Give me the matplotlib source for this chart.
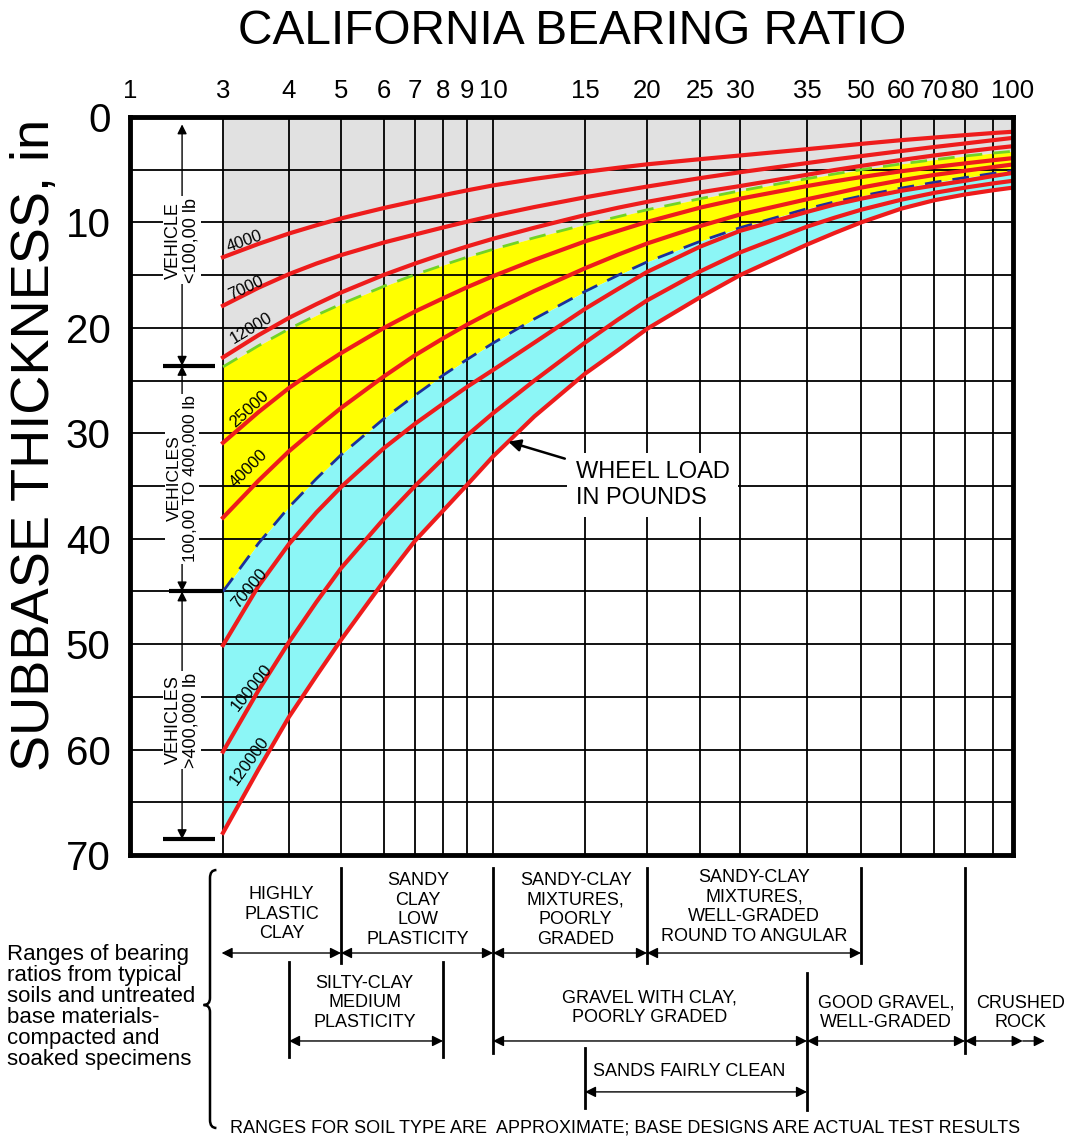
import numpy as np
import matplotlib
matplotlib.use('Agg')
import matplotlib.pyplot as plt
from matplotlib.path import Path
from matplotlib.patches import PathPatch

plt.rcParams['font.family'] = ['Liberation Sans', 'DejaVu Sans']

# CBR values where the curves were read
cbr = [3, 3.5, 4, 4.5, 5, 6, 7, 8, 9, 10, 12, 15, 17.5, 20, 25, 30, 35, 42, 50, 60, 70, 80, 90, 100]

# subbase thickness (in) for each wheel load
load_labels = ['4000', '7000', '12000', '25000', '40000', '70000', '100000', '120000']
t_4000 = [13.3, 12.04, 11.05, 10.27, 9.62, 8.63, 7.98, 7.42, 6.96, 6.49, 5.87, 5.21,
          4.81, 4.49, 4.0, 3.65, 3.05, 2.8, 2.55, 2.2, 1.95, 1.72, 1.52, 1.4]
t_7000 = [17.9, 16.2, 14.9, 13.9, 13.1, 11.9, 11.15, 10.48, 9.93, 9.36, 8.54, 7.62,
          7.06, 6.6, 5.8, 5.24, 4.37, 4.02, 3.71, 3.23, 2.85, 2.51, 2.2, 1.98]
t_12000 = [22.8, 20.7, 19.05, 17.75, 16.65, 14.97, 13.9, 13.0, 12.28, 11.55, 10.5, 9.3,
           8.6, 8.05, 7.15, 6.55, 5.48, 5.03, 4.64, 4.08, 3.65, 3.28, 2.97, 2.77]
t_25000 = [30.9, 28.0, 25.7, 23.9, 22.4, 20.0, 18.45, 17.2, 16.15, 15.1, 13.55, 11.8,
           10.8, 9.95, 8.6, 7.75, 6.55, 6.1, 5.7, 5.15, 4.75, 4.4, 4.1, 3.9]
t_40000 = [38.0, 34.5, 31.7, 29.5, 27.6, 24.6, 22.6, 21.0, 19.7, 18.4, 16.5, 14.35,
           13.05, 12.0, 10.35, 9.25, 7.8, 7.25, 6.7, 6.0, 5.5, 5.1, 4.75, 4.5]
t_70000 = [50.1, 44.5, 40.5, 37.5, 35.1, 31.4, 29.1, 27.2, 25.6, 24.0, 21.4, 18.2,
           16.3, 14.7, 12.3, 10.8, 9.0, 8.3, 7.75, 7.0, 6.5, 6.05, 5.6, 5.3]
t_100000 = [60.2, 54.4, 49.8, 46.0, 42.8, 38.1, 35.0, 32.4, 30.2, 28.1, 25.0, 21.4,
            19.2, 17.4, 14.65, 12.85, 10.4, 9.55, 8.8, 7.85, 7.2, 6.7, 6.3, 6.05]
t_120000 = [67.9, 61.9, 56.9, 53.0, 49.6, 44.0, 40.2, 37.35, 34.9, 32.2, 28.4, 24.35,
            22.1, 20.1, 17.1, 15.0, 12.1, 11.0, 10.0, 8.7, 7.9, 7.35, 6.95, 6.7]
curves = [t_4000, t_7000, t_12000, t_25000, t_40000, t_70000, t_100000, t_120000]

# dashed limits between the vehicle classes
t_green = [23.7, 21.7, 20.1, 18.8, 17.75, 16.05, 14.95, 14.05, 13.3, 12.55, 11.45, 10.2,
           9.45, 8.8, 7.75, 7.0, 5.85, 5.4, 5.0, 4.45, 4.05, 3.7, 3.42, 3.25]
t_blue = [45.0, 40.45, 37.0, 34.3, 32.05, 28.6, 26.4, 24.5, 23.0, 21.45, 19.15, 16.55,
          15.0, 13.75, 11.8, 10.5, 8.7, 8.05, 7.5, 6.75, 6.2, 5.75, 5.35, 5.1]

# label spots along the curves (cbr, thickness, angle)
lab_x = [3.30, 3.31, 3.40, 3.36, 3.35, 3.37, 3.40, 3.36]
lab_y = [11.8, 16.2, 20.0, 27.7, 33.3, 44.7, 54.1, 61.1]
lab_rot = [20, 25, 31, 42, 45, 50, 51, 54]

# top axis
tick_vals = [1, 3, 4, 5, 6, 7, 8, 9, 10, 15, 20, 25, 30, 35, 50, 60, 70, 80, 90, 100]
tick_labels = ['1', '3', '4', '5', '6', '7', '8', '9', '10', '15', '20', '25', '30',
               '35', '50', '60', '70', '80', '', '100']
# the chart's CBR scale is not a plain log scale; spacing
scale_pos = [130, 223, 289, 341, 384, 415, 443, 467, 493, 585, 647, 700, 740,
             807, 861, 901, 934, 965, 993, 1013]
lv = np.log10(tick_vals)


def fwd(x):
    x = np.clip(np.asarray(x, dtype=float), 1e-3, None)
    return np.interp(np.log10(x), lv, scale_pos)


def inv(p):
    return 10 ** np.interp(p, scale_pos, lv)


fig = plt.figure(figsize=(10.71, 11.40), dpi=100)
ax = fig.add_axes([130 / 1071, 1 - 855 / 1140, 883 / 1071, 738 / 1140])
ax.set_xscale('function', functions=(fwd, inv))
ax.set_xlim(1, 100)
ax.set_ylim(70, 0)

# shaded zones
ax.fill_between(cbr, 0, t_green, color='#e1e1e1', lw=0, zorder=0)
ax.fill_between(cbr, t_green, t_blue, color='#ffff00', lw=0, zorder=0)
ax.fill_between(cbr, t_blue, t_120000, color='#8cf6f6', lw=0, zorder=0)

# grid
ax.set_xticks(tick_vals)
ax.set_xticklabels(tick_labels)
ax.set_yticks(range(0, 71, 10))
for v in tick_vals[1:]:
    ax.axvline(v, color='black', lw=1.3, zorder=1)
for v in range(5, 70, 5):
    ax.axhline(v, color='black', lw=1.3, zorder=1)

ax.xaxis.tick_top()
ax.tick_params(axis='x', which='both', length=0, labelsize=18.5, pad=10)
ax.tick_params(axis='y', which='both', length=0, labelsize=29, pad=14)
for s in ax.spines.values():
    s.set_linewidth(3.5)
    s.set_zorder(5)

for t in curves:
    ax.plot(cbr, t, color='#ee1c1c', lw=3, zorder=3)
ax.plot(cbr, t_green, color='#72d424', lw=2, ls=(0, (6, 4)), zorder=2)
ax.plot(cbr, t_blue, color='#1c2f9a', lw=2, ls=(0, (6, 4)), zorder=2)

for lab, x, y, r in zip(load_labels, lab_x, lab_y, lab_rot):
    ax.text(x, y, lab, rotation=r, fontsize=12, ha='center', va='center',
            rotation_mode='anchor', zorder=4)

# vehicle classes on the left
vx = 1.85
for y0, y1 in [(0.7, 23.6), (23.6, 45.0), (45.0, 68.5)]:
    ax.annotate('', xy=(vx, y1), xytext=(vx, y0),
                arrowprops=dict(arrowstyle='<|-|>', color='black', lw=1,
                                mutation_scale=14, shrinkA=0, shrinkB=0), zorder=4)
for y, x0, x1 in [(23.6, 1.48, 2.73), (45.0, 1.58, 3.0), (68.5, 1.48, 2.73)]:
    ax.plot([x0, x1], [y, y], color='black', lw=3, zorder=4, solid_capstyle='butt')
veh = [('VEHICLE\n<100,00 lb', 11.7, 13), ('VEHICLES\n100,00 TO 400,000 lb', 34.3, 12.5),
       ('VEHICLES\n>400,000 lb', 57.2, 13)]
for txt, y, fs in veh:
    ax.text(vx, y, txt, rotation=90, fontsize=fs, ha='center', va='center',
            multialignment='center', linespacing=1.1, zorder=4,
            bbox=dict(facecolor='white', edgecolor='none', pad=1))

ax.annotate('WHEEL LOAD\nIN POUNDS', xy=(10.7, 30.8), xytext=(14.4, 34.9),
            fontsize=17, ha='left', va='center', linespacing=1.2,
            bbox=dict(facecolor='white', edgecolor='none', pad=6),
            arrowprops=dict(arrowstyle='-|>', color='black', lw=1.8,
                            mutation_scale=18, shrinkA=2, shrinkB=0), zorder=6)

# soil type ranges under the chart
tr = ax.get_xaxis_transform()
lines = [(5, -0.0176, -0.146), (20, -0.0176, -0.146), (50, -0.0176, -0.146),
         (10, -0.0176, -0.268), (80, -0.0176, -0.268),
         (4, -0.145, -0.274), (8, -0.145, -0.274),
         (35, -0.160, -0.3455), (15, -0.2615, -0.343)]
for x, y0, y1 in lines:
    ax.plot([x, x], [y0, y1], color='black', lw=2, transform=tr, clip_on=False)

arw = dict(arrowstyle='<|-|>', color='black', lw=1, mutation_scale=16, shrinkA=0, shrinkB=0)
spans = [(2.95, 5, -0.1328), (5, 10, -0.1328), (10, 20, -0.1328), (20, 50, -0.1328),
         (4, 8, -0.252), (10, 35, -0.252), (35, 80, -0.252), (15, 35, -0.321)]
for x0, x1, y in spans:
    ax.annotate('', xy=(x1, y), xytext=(x0, y), xycoords=tr, textcoords=tr,
                arrowprops=arw, annotation_clip=False)
ax.annotate('', xy=(1.011, -0.252), xytext=(80, -0.252), xycoords='axes fraction',
            textcoords=tr, arrowprops=arw, annotation_clip=False)
ax.annotate('', xy=(1.036, -0.252), xytext=(1.011, -0.252), xycoords='axes fraction',
            arrowprops=dict(arrowstyle='-|>', color='black', lw=1, mutation_scale=16,
                            shrinkA=0, shrinkB=0), annotation_clip=False)

soils = [('HIGHLY\nPLASTIC\nCLAY', 3.87, -0.080),
         ('SANDY\nCLAY\nLOW\nPLASTICITY', 7.1, -0.0745),
         ('SANDY-CLAY\nMIXTURES,\nPOORLY\nGRADED', 14.4, -0.0745),
         ('SANDY-CLAY\nMIXTURES,\nWELL-GRADED\nROUND TO ANGULAR', 31, -0.0705),
         ('SILTY-CLAY\nMEDIUM\nPLASTICITY', 5.53, -0.2005),
         ('GRAVEL WITH CLAY,\nPOORLY GRADED', 20.2, -0.207),
         ('GOOD GRAVEL,\nWELL-GRADED', 56, -0.214),
         ('SANDS FAIRLY CLEAN', 23.9, -0.294)]
for txt, x, y in soils:
    ax.text(x, y, txt, transform=tr, fontsize=13, ha='center', va='center',
            multialignment='center', linespacing=1.2, clip_on=False)
ax.text(1.008, -0.214, 'CRUSHED\nROCK', transform=ax.transAxes, fontsize=13,
        ha='center', va='center', multialignment='center', linespacing=1.2)

# brace
bx = 210 / 1071
def fy(py):
    return 1 - py / 1140
verts = [(bx + 0.006, fy(870)), (bx, fy(870)), (bx, fy(878)),
         (bx, fy(998)),
         (bx, fy(1005)), (bx - 0.006, fy(1005)),
         (bx, fy(1005)), (bx, fy(1012)),
         (bx, fy(1120)),
         (bx, fy(1128)), (bx + 0.006, fy(1128))]
codes = [Path.MOVETO, Path.CURVE3, Path.CURVE3, Path.LINETO,
         Path.CURVE3, Path.CURVE3, Path.CURVE3, Path.CURVE3,
         Path.LINETO, Path.CURVE3, Path.CURVE3]
fig.add_artist(PathPatch(Path(verts, codes), transform=fig.transFigure,
                         fill=False, lw=1.8, color='black'))

fig.text(7 / 1071, fy(1007), 'Ranges of bearing\nratios from typical\nsoils and untreated\n'
         'base materials-\ncompacted and\nsoaked specimens',
         fontsize=16, ha='left', va='center', linespacing=1.0)
fig.text(230 / 1071, fy(1128), 'RANGES FOR SOIL TYPE ARE  APPROXIMATE; BASE DESIGNS ARE ACTUAL TEST RESULTS',
         fontsize=13, ha='left', va='center')

fig.text(572 / 1071, fy(32), 'CALIFORNIA BEARING RATIO', fontsize=34.5, ha='center', va='center')
fig.text(35 / 1071, fy(445), 'SUBBASE THICKNESS, in', fontsize=39, rotation=90,
         ha='center', va='center')

fig.savefig('out.png', dpi=100)
